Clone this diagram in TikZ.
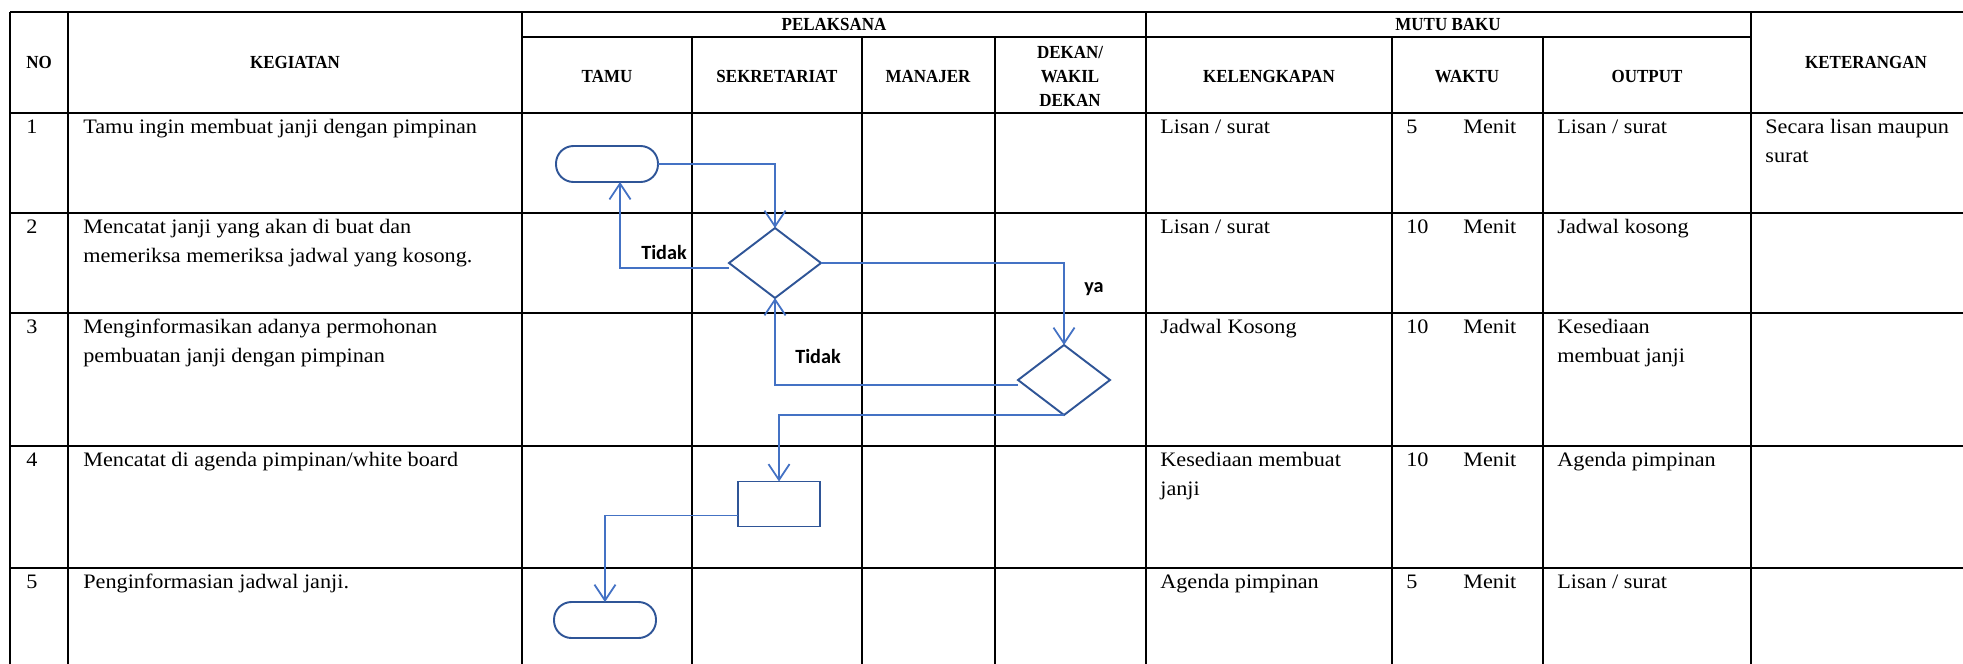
\documentclass[tikz,border=0pt]{standalone}
\usepackage{fontspec}
\setmainfont{Liberation Serif}[FakeStretch=1.08]
\newfontfamily\headfont{Liberation Serif}[FakeStretch=0.92]
\newfontfamily\lblfont{Carlito}
\usetikzlibrary{arrows.meta,shapes.geometric}
\definecolor{flowblue}{HTML}{4472C4}
\definecolor{shapeblue}{HTML}{2F5597}

\begin{document}
\begin{tikzpicture}[x=0.02cm,y=-0.02cm,
  grid/.style={line width=1.1pt,black},
  body/.style={anchor=base west,inner sep=0pt,font=\fontsize{11.7}{14}\selectfont},
  head/.style={anchor=base,inner sep=0pt,font=\headfont\fontsize{10.5}{12}\selectfont\bfseries},
  lbl/.style={inner sep=0pt,font=\fontsize{11.5}{13}\selectfont\lblfont\bfseries},
  term/.style={draw=shapeblue,line width=1.1pt,rectangle,rounded corners=0.35cm,
    minimum width=2.04cm,minimum height=0.72cm,inner sep=0pt,outer sep=0pt},
  decide/.style={draw=shapeblue,line width=1.1pt,diamond,
    minimum width=1.84cm,minimum height=1.4cm,inner sep=0pt,outer sep=0pt},
  proc/.style={draw=shapeblue,line width=1.1pt,rectangle,
    minimum width=1.64cm,minimum height=0.9cm,inner sep=0pt,outer sep=0pt},
  flow/.style={draw=flowblue,line width=1pt,-{Straight Barb[length=9pt,width=12pt]}}
]
\path[use as bounding box] (0,0) rectangle (1963,663);
\clip (0,0) rectangle (1963,663);

% table grid
\foreach \x in {10,68,522,1146,1751} \draw[grid] (\x,12) -- (\x,680);
\foreach \x in {692,862,995,1392,1543} \draw[grid] (\x,37) -- (\x,680);
\foreach \y in {12,113,213,313,446,568} \draw[grid] (10,\y) -- (2000,\y);
\draw[grid] (522,37) -- (1751,37);

% header
\node[head] (hno) at (39,68) {NO};
\node[head] (hkeg) at (295,68) {KEGIATAN};
\node[head] (hpel) at (834,30) {PELAKSANA};
\node[head] (hmutu) at (1448,30) {MUTU BAKU};
\node[head] (htamu) at (607,82) {TAMU};
\node[head] (hsek) at (777,82) {SEKRETARIAT};
\node[head] (hman) at (928,82) {MANAJER};
\node[head] (hdek1) at (1070,58) {DEKAN/};
\node[head] (hdek2) at (1070,82) {WAKIL};
\node[head] (hdek3) at (1070,106) {DEKAN};
\node[head] (hkel) at (1269,82) {KELENGKAPAN};
\node[head] (hwak) at (1467,82) {WAKTU};
\node[head] (hout) at (1647,82) {OUTPUT};
\node[head] (hket) at (1866,68) {KETERANGAN};

% row 1
\node[body] (no1) at (26,133) {1};
\node[body] (keg1) at (83,133) {Tamu ingin membuat janji dengan pimpinan};
\node[body] (kel1) at (1160,133) {Lisan / surat};
\node[body] (wn1) at (1406,133) {5};
\node[body] (wm1) at (1463,133) {Menit};
\node[body] (out1) at (1557,133) {Lisan / surat};
\node[body] (ket1a) at (1765,133) {Secara lisan maupun};
\node[body] (ket1b) at (1765,162) {surat};

% row 2
\node[body] (no2) at (26,233) {2};
\node[body] (keg2a) at (83,233) {Mencatat janji yang akan di buat dan};
\node[body] (keg2b) at (83,262) {memeriksa memeriksa jadwal yang kosong.};
\node[body] (kel2) at (1160,233) {Lisan / surat};
\node[body] (wn2) at (1406,233) {10};
\node[body] (wm2) at (1463,233) {Menit};
\node[body] (out2) at (1557,233) {Jadwal kosong};

% row 3
\node[body] (no3) at (26,333) {3};
\node[body] (keg3a) at (83,333) {Menginformasikan adanya permohonan};
\node[body] (keg3b) at (83,362) {pembuatan janji dengan pimpinan};
\node[body] (kel3) at (1160,333) {Jadwal Kosong};
\node[body] (wn3) at (1406,333) {10};
\node[body] (wm3) at (1463,333) {Menit};
\node[body] (out3a) at (1557,333) {Kesediaan};
\node[body] (out3b) at (1557,362) {membuat janji};

% row 4
\node[body] (no4) at (26,466) {4};
\node[body] (keg4) at (83,466) {Mencatat di agenda pimpinan/white board};
\node[body] (kel4a) at (1160,466) {Kesediaan membuat};
\node[body] (kel4b) at (1160,495) {janji};
\node[body] (wn4) at (1406,466) {10};
\node[body] (wm4) at (1463,466) {Menit};
\node[body] (out4) at (1557,466) {Agenda pimpinan};

% row 5
\node[body] (no5) at (26,588) {5};
\node[body] (keg5) at (83,588) {Penginformasian jadwal janji.};
\node[body] (kel5) at (1160,588) {Agenda pimpinan};
\node[body] (wn5) at (1406,588) {5};
\node[body] (wm5) at (1463,588) {Menit};
\node[body] (out5) at (1557,588) {Lisan / surat};

% flowchart shapes
\node[term] (t1) at (607,164) {};
\node[decide] (d1) at (775,263) {};
\node[decide] (d2) at (1064,380) {};
\node[proc] (r1) at (779,504) {};
\node[term] (t2) at (605,620) {};

% connectors
\draw[flow] (t1.east) -| (d1.north);
\draw[flow] ([yshift=-0.1cm]d1.west) -| ([xshift=0.26cm]t1.south);
\draw[flow] (d1.east) -| (d2.north);
\draw[flow] ([yshift=-0.1cm]d2.west) -| (d1.south);
\draw[flow] (d2.south) -| (r1.north);
\draw[flow] ([yshift=-0.23cm]r1.west) -| (t2.north);

% branch labels
\node[lbl] (tidak1) at (664,252) {Tidak};
\node[lbl] (ya) at (1094,289) {ya};
\node[lbl] (tidak2) at (818,356) {Tidak};
\end{tikzpicture}
\end{document}
